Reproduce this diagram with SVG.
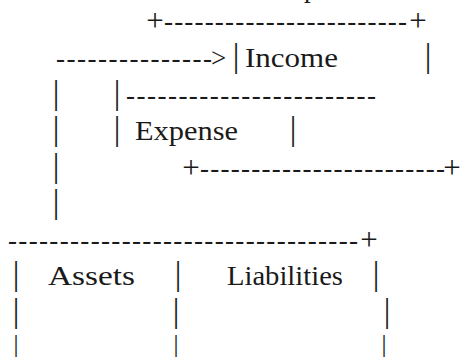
<svg xmlns="http://www.w3.org/2000/svg" width="464" height="358" viewBox="0 0 464 358">
<style>
text{font-family:'Liberation Serif','Times New Roman','DejaVu Serif',serif;font-size:27px;fill:#1a1a1a}
.b{font-size:33px;text-anchor:middle}
.s{font-size:25px;text-anchor:middle}
.c{font-size:31px;text-anchor:middle}
</style>
<rect width="464" height="358" fill="#fff"/>
<g id="fragment">
<text x="304" y="-3">p</text>
</g>
<g id="income">
<text class="c" x="155" y="31">+</text>
<text x="164" y="30" textLength="243" lengthAdjust="spacing">------------------------</text>
<text class="c" x="418" y="31">+</text>
<text class="b" x="236" y="67">|</text>
<text x="245" y="67" textLength="93" lengthAdjust="spacingAndGlyphs">Income</text>
<text class="b" x="428" y="67">|</text>
</g>
<g id="expense">
<text class="b" x="117" y="104">|</text>
<text x="126" y="104" textLength="250" lengthAdjust="spacing">------------------------</text>
<text class="b" x="117" y="140">|</text>
<text x="135" y="140" textLength="103" lengthAdjust="spacingAndGlyphs">Expense</text>
<text class="b" x="293" y="140">|</text>
<text class="c" x="191" y="177.5">+</text>
<text x="200" y="176.5" textLength="245" lengthAdjust="spacing">------------------------</text>
<text class="c" x="452" y="177.5">+</text>
</g>
<g id="assets-liabilities">
<text x="8" y="249" textLength="350" lengthAdjust="spacing">----------------------------------</text>
<text class="c" x="369" y="250">+</text>
<text class="b" x="16" y="285">|</text>
<text x="48" y="285" textLength="87" lengthAdjust="spacingAndGlyphs">Assets</text>
<text class="b" x="178" y="285">|</text>
<text x="227" y="285" textLength="116" lengthAdjust="spacingAndGlyphs">Liabilities</text>
<text class="b" x="376" y="285">|</text>
<text class="b" x="16" y="321.5">|</text>
<text class="b" x="176" y="321.5">|</text>
<text class="b" x="387" y="321.5">|</text>
<text class="s" x="16" y="352">|</text>
<text class="s" x="176" y="352">|</text>
<text class="s" x="384" y="352">|</text>
</g>
<g id="connectors">
<text x="56" y="67" textLength="156" lengthAdjust="spacing">---------------</text>
<text x="211" y="67">&gt;</text>
<text class="b" x="56" y="104">|</text>
<text class="b" x="56" y="140">|</text>
<text class="b" x="56" y="176.5">|</text>
<text class="b" x="56" y="213">|</text>
</g>
</svg>
